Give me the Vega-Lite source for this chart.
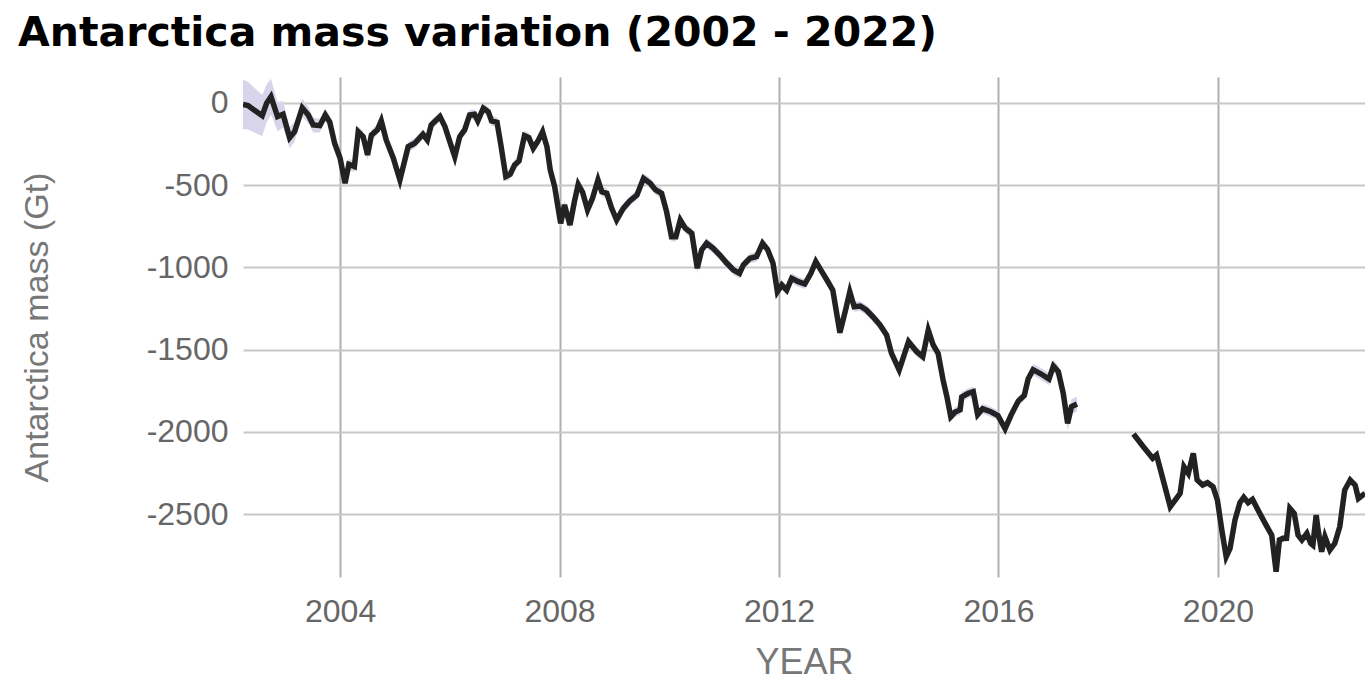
{
  "$schema": "https://vega.github.io/schema/vega-lite/v6.json",
  "autosize": {"type": "none"},
  "padding": {"left": 243, "top": 77, "right": 0, "bottom": 106},
  "width": 1122,
  "height": 500,
  "background": "white",
  "title": {
    "text": "Antarctica mass variation (2002 - 2022)",
    "anchor": "start",
    "frame": "group",
    "dx": -225,
    "dy": 40,
    "offset": 30,
    "baseline": "alphabetic",
    "font": "DejaVu Sans",
    "fontWeight": "bold",
    "fontSize": 41,
    "color": "#000000"
  },
  "config": {
    "view": {"stroke": null},
    "locale": {"number": {"decimal": ".", "thousands": ",", "grouping": [3], "currency": ["$", ""], "minus": "-"}},
    "axis": {
      "domain": false,
      "ticks": false,
      "grid": true,
      "gridWidth": 2,
      "labelFont": "Liberation Sans",
      "labelFontSize": 32,
      "labelColor": "#666666",
      "titleFont": "Liberation Sans",
      "titleFontWeight": "normal",
      "titleColor": "#777777"
    }
  },
  "data": {
    "values": [
      {"mission": "GRACE", "year": 2002.23, "mass": -8, "u": 150},
      {"mission": "GRACE", "year": 2002.32, "mass": -16, "u": 145},
      {"mission": "GRACE", "year": 2002.58, "mass": -77, "u": 125},
      {"mission": "GRACE", "year": 2002.66, "mass": -2, "u": 115},
      {"mission": "GRACE", "year": 2002.74, "mass": 38, "u": 110},
      {"mission": "GRACE", "year": 2002.78, "mass": -2, "u": 100},
      {"mission": "GRACE", "year": 2002.86, "mass": -83, "u": 90},
      {"mission": "GRACE", "year": 2002.96, "mass": -69, "u": 80},
      {"mission": "GRACE", "year": 2003.08, "mass": -211, "u": 65},
      {"mission": "GRACE", "year": 2003.17, "mass": -175, "u": 60},
      {"mission": "GRACE", "year": 2003.31, "mass": -29, "u": 55},
      {"mission": "GRACE", "year": 2003.42, "mass": -73, "u": 50},
      {"mission": "GRACE", "year": 2003.51, "mass": -134, "u": 45},
      {"mission": "GRACE", "year": 2003.63, "mass": -138, "u": 42},
      {"mission": "GRACE", "year": 2003.73, "mass": -73, "u": 40},
      {"mission": "GRACE", "year": 2003.81, "mass": -114, "u": 38},
      {"mission": "GRACE", "year": 2003.90, "mass": -245, "u": 36},
      {"mission": "GRACE", "year": 2004.00, "mass": -336, "u": 35},
      {"mission": "GRACE", "year": 2004.09, "mass": -488, "u": 35},
      {"mission": "GRACE", "year": 2004.16, "mass": -373, "u": 34},
      {"mission": "GRACE", "year": 2004.26, "mass": -387, "u": 34},
      {"mission": "GRACE", "year": 2004.33, "mass": -175, "u": 33},
      {"mission": "GRACE", "year": 2004.42, "mass": -205, "u": 33},
      {"mission": "GRACE", "year": 2004.50, "mass": -316, "u": 32},
      {"mission": "GRACE", "year": 2004.57, "mass": -195, "u": 32},
      {"mission": "GRACE", "year": 2004.68, "mass": -164, "u": 31},
      {"mission": "GRACE", "year": 2004.75, "mass": -109, "u": 31},
      {"mission": "GRACE", "year": 2004.84, "mass": -225, "u": 30},
      {"mission": "GRACE", "year": 2004.97, "mass": -336, "u": 30},
      {"mission": "GRACE", "year": 2005.09, "mass": -468, "u": 30},
      {"mission": "GRACE", "year": 2005.24, "mass": -266, "u": 30},
      {"mission": "GRACE", "year": 2005.36, "mass": -245, "u": 30},
      {"mission": "GRACE", "year": 2005.51, "mass": -190, "u": 30},
      {"mission": "GRACE", "year": 2005.59, "mass": -225, "u": 30},
      {"mission": "GRACE", "year": 2005.66, "mass": -134, "u": 30},
      {"mission": "GRACE", "year": 2005.82, "mass": -83, "u": 30},
      {"mission": "GRACE", "year": 2005.91, "mass": -144, "u": 30},
      {"mission": "GRACE", "year": 2006.09, "mass": -327, "u": 30},
      {"mission": "GRACE", "year": 2006.18, "mass": -205, "u": 30},
      {"mission": "GRACE", "year": 2006.27, "mass": -164, "u": 30},
      {"mission": "GRACE", "year": 2006.36, "mass": -73, "u": 30},
      {"mission": "GRACE", "year": 2006.45, "mass": -69, "u": 30},
      {"mission": "GRACE", "year": 2006.51, "mass": -109, "u": 30},
      {"mission": "GRACE", "year": 2006.61, "mass": -32, "u": 30},
      {"mission": "GRACE", "year": 2006.70, "mass": -53, "u": 30},
      {"mission": "GRACE", "year": 2006.76, "mass": -109, "u": 30},
      {"mission": "GRACE", "year": 2006.86, "mass": -117, "u": 30},
      {"mission": "GRACE", "year": 2006.93, "mass": -255, "u": 30},
      {"mission": "GRACE", "year": 2007.02, "mass": -448, "u": 30},
      {"mission": "GRACE", "year": 2007.10, "mass": -434, "u": 30},
      {"mission": "GRACE", "year": 2007.18, "mass": -377, "u": 30},
      {"mission": "GRACE", "year": 2007.26, "mass": -353, "u": 30},
      {"mission": "GRACE", "year": 2007.36, "mass": -199, "u": 30},
      {"mission": "GRACE", "year": 2007.44, "mass": -211, "u": 30},
      {"mission": "GRACE", "year": 2007.52, "mass": -276, "u": 30},
      {"mission": "GRACE", "year": 2007.60, "mass": -235, "u": 30},
      {"mission": "GRACE", "year": 2007.69, "mass": -175, "u": 30},
      {"mission": "GRACE", "year": 2007.77, "mass": -266, "u": 30},
      {"mission": "GRACE", "year": 2007.83, "mass": -408, "u": 30},
      {"mission": "GRACE", "year": 2007.91, "mass": -509, "u": 30},
      {"mission": "GRACE", "year": 2007.97, "mass": -631, "u": 30},
      {"mission": "GRACE", "year": 2008.02, "mass": -732, "u": 30},
      {"mission": "GRACE", "year": 2008.09, "mass": -620, "u": 30},
      {"mission": "GRACE", "year": 2008.13, "mass": -671, "u": 30},
      {"mission": "GRACE", "year": 2008.19, "mass": -742, "u": 30},
      {"mission": "GRACE", "year": 2008.27, "mass": -600, "u": 30},
      {"mission": "GRACE", "year": 2008.34, "mass": -495, "u": 30},
      {"mission": "GRACE", "year": 2008.42, "mass": -543, "u": 30},
      {"mission": "GRACE", "year": 2008.51, "mass": -651, "u": 30},
      {"mission": "GRACE", "year": 2008.60, "mass": -580, "u": 30},
      {"mission": "GRACE", "year": 2008.70, "mass": -468, "u": 30},
      {"mission": "GRACE", "year": 2008.77, "mass": -540, "u": 30},
      {"mission": "GRACE", "year": 2008.86, "mass": -549, "u": 30},
      {"mission": "GRACE", "year": 2008.95, "mass": -641, "u": 30},
      {"mission": "GRACE", "year": 2009.04, "mass": -712, "u": 30},
      {"mission": "GRACE", "year": 2009.16, "mass": -641, "u": 30},
      {"mission": "GRACE", "year": 2009.28, "mass": -596, "u": 30},
      {"mission": "GRACE", "year": 2009.41, "mass": -560, "u": 30},
      {"mission": "GRACE", "year": 2009.53, "mass": -458, "u": 30},
      {"mission": "GRACE", "year": 2009.65, "mass": -488, "u": 30},
      {"mission": "GRACE", "year": 2009.75, "mass": -529, "u": 30},
      {"mission": "GRACE", "year": 2009.86, "mass": -549, "u": 30},
      {"mission": "GRACE", "year": 2009.95, "mass": -661, "u": 30},
      {"mission": "GRACE", "year": 2010.04, "mass": -813, "u": 30},
      {"mission": "GRACE", "year": 2010.12, "mass": -813, "u": 30},
      {"mission": "GRACE", "year": 2010.20, "mass": -712, "u": 30},
      {"mission": "GRACE", "year": 2010.29, "mass": -762, "u": 30},
      {"mission": "GRACE", "year": 2010.41, "mass": -793, "u": 30},
      {"mission": "GRACE", "year": 2010.51, "mass": -1005, "u": 30},
      {"mission": "GRACE", "year": 2010.59, "mass": -894, "u": 30},
      {"mission": "GRACE", "year": 2010.68, "mass": -853, "u": 30},
      {"mission": "GRACE", "year": 2010.80, "mass": -884, "u": 30},
      {"mission": "GRACE", "year": 2010.92, "mass": -925, "u": 30},
      {"mission": "GRACE", "year": 2011.05, "mass": -975, "u": 30},
      {"mission": "GRACE", "year": 2011.17, "mass": -1016, "u": 30},
      {"mission": "GRACE", "year": 2011.28, "mass": -1036, "u": 30},
      {"mission": "GRACE", "year": 2011.35, "mass": -985, "u": 30},
      {"mission": "GRACE", "year": 2011.47, "mass": -945, "u": 30},
      {"mission": "GRACE", "year": 2011.59, "mass": -935, "u": 30},
      {"mission": "GRACE", "year": 2011.70, "mass": -853, "u": 30},
      {"mission": "GRACE", "year": 2011.79, "mass": -890, "u": 30},
      {"mission": "GRACE", "year": 2011.89, "mass": -975, "u": 30},
      {"mission": "GRACE", "year": 2011.97, "mass": -1148, "u": 30},
      {"mission": "GRACE", "year": 2012.05, "mass": -1107, "u": 30},
      {"mission": "GRACE", "year": 2012.14, "mass": -1138, "u": 30},
      {"mission": "GRACE", "year": 2012.23, "mass": -1066, "u": 30},
      {"mission": "GRACE", "year": 2012.35, "mass": -1087, "u": 30},
      {"mission": "GRACE", "year": 2012.47, "mass": -1101, "u": 30},
      {"mission": "GRACE", "year": 2012.58, "mass": -1036, "u": 30},
      {"mission": "GRACE", "year": 2012.67, "mass": -965, "u": 30},
      {"mission": "GRACE", "year": 2012.78, "mass": -1026, "u": 30},
      {"mission": "GRACE", "year": 2012.88, "mass": -1081, "u": 30},
      {"mission": "GRACE", "year": 2012.98, "mass": -1138, "u": 30},
      {"mission": "GRACE", "year": 2013.05, "mass": -1279, "u": 30},
      {"mission": "GRACE", "year": 2013.11, "mass": -1397, "u": 30},
      {"mission": "GRACE", "year": 2013.22, "mass": -1249, "u": 30},
      {"mission": "GRACE", "year": 2013.29, "mass": -1148, "u": 30},
      {"mission": "GRACE", "year": 2013.37, "mass": -1239, "u": 30},
      {"mission": "GRACE", "year": 2013.48, "mass": -1235, "u": 30},
      {"mission": "GRACE", "year": 2013.59, "mass": -1259, "u": 30},
      {"mission": "GRACE", "year": 2013.71, "mass": -1300, "u": 30},
      {"mission": "GRACE", "year": 2013.84, "mass": -1350, "u": 30},
      {"mission": "GRACE", "year": 2013.96, "mass": -1411, "u": 30},
      {"mission": "GRACE", "year": 2014.05, "mass": -1523, "u": 30},
      {"mission": "GRACE", "year": 2014.19, "mass": -1624, "u": 30},
      {"mission": "GRACE", "year": 2014.36, "mass": -1452, "u": 30},
      {"mission": "GRACE", "year": 2014.51, "mass": -1513, "u": 30},
      {"mission": "GRACE", "year": 2014.62, "mass": -1543, "u": 30},
      {"mission": "GRACE", "year": 2014.72, "mass": -1381, "u": 30},
      {"mission": "GRACE", "year": 2014.81, "mass": -1472, "u": 30},
      {"mission": "GRACE", "year": 2014.90, "mass": -1523, "u": 30},
      {"mission": "GRACE", "year": 2014.99, "mass": -1685, "u": 30},
      {"mission": "GRACE", "year": 2015.06, "mass": -1787, "u": 30},
      {"mission": "GRACE", "year": 2015.13, "mass": -1908, "u": 30},
      {"mission": "GRACE", "year": 2015.21, "mass": -1880, "u": 30},
      {"mission": "GRACE", "year": 2015.30, "mass": -1867, "u": 30},
      {"mission": "GRACE", "year": 2015.33, "mass": -1788, "u": 30},
      {"mission": "GRACE", "year": 2015.44, "mass": -1767, "u": 30},
      {"mission": "GRACE", "year": 2015.54, "mass": -1756, "u": 30},
      {"mission": "GRACE", "year": 2015.62, "mass": -1895, "u": 30},
      {"mission": "GRACE", "year": 2015.71, "mass": -1860, "u": 30},
      {"mission": "GRACE", "year": 2015.86, "mass": -1878, "u": 30},
      {"mission": "GRACE", "year": 2015.99, "mass": -1901, "u": 30},
      {"mission": "GRACE", "year": 2016.12, "mass": -1981, "u": 30},
      {"mission": "GRACE", "year": 2016.23, "mass": -1898, "u": 30},
      {"mission": "GRACE", "year": 2016.36, "mass": -1813, "u": 30},
      {"mission": "GRACE", "year": 2016.47, "mass": -1779, "u": 30},
      {"mission": "GRACE", "year": 2016.54, "mass": -1679, "u": 32},
      {"mission": "GRACE", "year": 2016.63, "mass": -1622, "u": 34},
      {"mission": "GRACE", "year": 2016.77, "mass": -1647, "u": 36},
      {"mission": "GRACE", "year": 2016.92, "mass": -1679, "u": 36},
      {"mission": "GRACE", "year": 2017.00, "mass": -1600, "u": 38},
      {"mission": "GRACE", "year": 2017.09, "mass": -1634, "u": 38},
      {"mission": "GRACE", "year": 2017.18, "mass": -1766, "u": 40},
      {"mission": "GRACE", "year": 2017.26, "mass": -1948, "u": 42},
      {"mission": "GRACE", "year": 2017.33, "mass": -1847, "u": 45},
      {"mission": "GRACE", "year": 2017.43, "mass": -1831, "u": 45},
      {"mission": "GRACE-FO", "year": 2018.46, "mass": -2013, "u": 22},
      {"mission": "GRACE-FO", "year": 2018.64, "mass": -2091, "u": 22},
      {"mission": "GRACE-FO", "year": 2018.81, "mass": -2161, "u": 22},
      {"mission": "GRACE-FO", "year": 2018.88, "mass": -2141, "u": 22},
      {"mission": "GRACE-FO", "year": 2018.97, "mass": -2253, "u": 22},
      {"mission": "GRACE-FO", "year": 2019.13, "mass": -2456, "u": 22},
      {"mission": "GRACE-FO", "year": 2019.22, "mass": -2415, "u": 22},
      {"mission": "GRACE-FO", "year": 2019.31, "mass": -2374, "u": 22},
      {"mission": "GRACE-FO", "year": 2019.38, "mass": -2212, "u": 22},
      {"mission": "GRACE-FO", "year": 2019.46, "mass": -2253, "u": 22},
      {"mission": "GRACE-FO", "year": 2019.55, "mass": -2131, "u": 22},
      {"mission": "GRACE-FO", "year": 2019.62, "mass": -2293, "u": 22},
      {"mission": "GRACE-FO", "year": 2019.72, "mass": -2324, "u": 22},
      {"mission": "GRACE-FO", "year": 2019.81, "mass": -2310, "u": 22},
      {"mission": "GRACE-FO", "year": 2019.91, "mass": -2334, "u": 22},
      {"mission": "GRACE-FO", "year": 2019.99, "mass": -2415, "u": 22},
      {"mission": "GRACE-FO", "year": 2020.07, "mass": -2597, "u": 22},
      {"mission": "GRACE-FO", "year": 2020.15, "mass": -2760, "u": 22},
      {"mission": "GRACE-FO", "year": 2020.22, "mass": -2709, "u": 22},
      {"mission": "GRACE-FO", "year": 2020.31, "mass": -2537, "u": 22},
      {"mission": "GRACE-FO", "year": 2020.40, "mass": -2431, "u": 22},
      {"mission": "GRACE-FO", "year": 2020.47, "mass": -2398, "u": 22},
      {"mission": "GRACE-FO", "year": 2020.55, "mass": -2431, "u": 22},
      {"mission": "GRACE-FO", "year": 2020.63, "mass": -2411, "u": 22},
      {"mission": "GRACE-FO", "year": 2020.73, "mass": -2476, "u": 22},
      {"mission": "GRACE-FO", "year": 2020.86, "mass": -2557, "u": 22},
      {"mission": "GRACE-FO", "year": 2020.98, "mass": -2628, "u": 22},
      {"mission": "GRACE-FO", "year": 2021.02, "mass": -2739, "u": 22},
      {"mission": "GRACE-FO", "year": 2021.06, "mass": -2851, "u": 22},
      {"mission": "GRACE-FO", "year": 2021.12, "mass": -2658, "u": 22},
      {"mission": "GRACE-FO", "year": 2021.19, "mass": -2648, "u": 22},
      {"mission": "GRACE-FO", "year": 2021.25, "mass": -2648, "u": 22},
      {"mission": "GRACE-FO", "year": 2021.31, "mass": -2465, "u": 22},
      {"mission": "GRACE-FO", "year": 2021.39, "mass": -2496, "u": 22},
      {"mission": "GRACE-FO", "year": 2021.46, "mass": -2628, "u": 22},
      {"mission": "GRACE-FO", "year": 2021.53, "mass": -2658, "u": 22},
      {"mission": "GRACE-FO", "year": 2021.62, "mass": -2618, "u": 22},
      {"mission": "GRACE-FO", "year": 2021.69, "mass": -2678, "u": 22},
      {"mission": "GRACE-FO", "year": 2021.73, "mass": -2689, "u": 22},
      {"mission": "GRACE-FO", "year": 2021.79, "mass": -2506, "u": 22},
      {"mission": "GRACE-FO", "year": 2021.83, "mass": -2608, "u": 22},
      {"mission": "GRACE-FO", "year": 2021.89, "mass": -2729, "u": 22},
      {"mission": "GRACE-FO", "year": 2021.95, "mass": -2638, "u": 22},
      {"mission": "GRACE-FO", "year": 2022.04, "mass": -2719, "u": 22},
      {"mission": "GRACE-FO", "year": 2022.13, "mass": -2678, "u": 22},
      {"mission": "GRACE-FO", "year": 2022.22, "mass": -2577, "u": 22},
      {"mission": "GRACE-FO", "year": 2022.31, "mass": -2354, "u": 22},
      {"mission": "GRACE-FO", "year": 2022.41, "mass": -2293, "u": 22},
      {"mission": "GRACE-FO", "year": 2022.50, "mass": -2324, "u": 22},
      {"mission": "GRACE-FO", "year": 2022.56, "mass": -2405, "u": 22},
      {"mission": "GRACE-FO", "year": 2022.68, "mass": -2374, "u": 22}
    ]
  },
  "encoding": {
    "x": {
      "field": "year",
      "type": "quantitative",
      "scale": {"domain": [2002.23, 2022.68], "nice": false, "zero": false},
      "axis": {
        "title": "YEAR",
        "values": [2004, 2008, 2012, 2016, 2020],
        "format": "d",
        "gridColor": "#b0b0b0",
        "labelPadding": 19,
        "titleFontSize": 36,
        "titlePadding": 18
      }
    },
    "y": {
      "field": "mass",
      "type": "quantitative",
      "scale": {"domain": [-2883, 158], "nice": false, "zero": false},
      "axis": {
        "title": "Antarctica mass (Gt)",
        "values": [-2500, -2000, -1500, -1000, -500, 0],
        "format": "d",
        "gridColor": "#c8c8c8",
        "labelPadding": 15,
        "titleFontSize": 34,
        "titlePadding": 92
      }
    },
    "detail": {"field": "mission"}
  },
  "layer": [
    {
      "mark": {"type": "errorband", "color": "#d8d5ea", "opacity": 1, "clip": true},
      "encoding": {"yError": {"field": "u"}}
    },
    {
      "mark": {"type": "line", "color": "#222222", "strokeWidth": 5.5, "clip": true},
      "encoding": {}
    }
  ]
}
